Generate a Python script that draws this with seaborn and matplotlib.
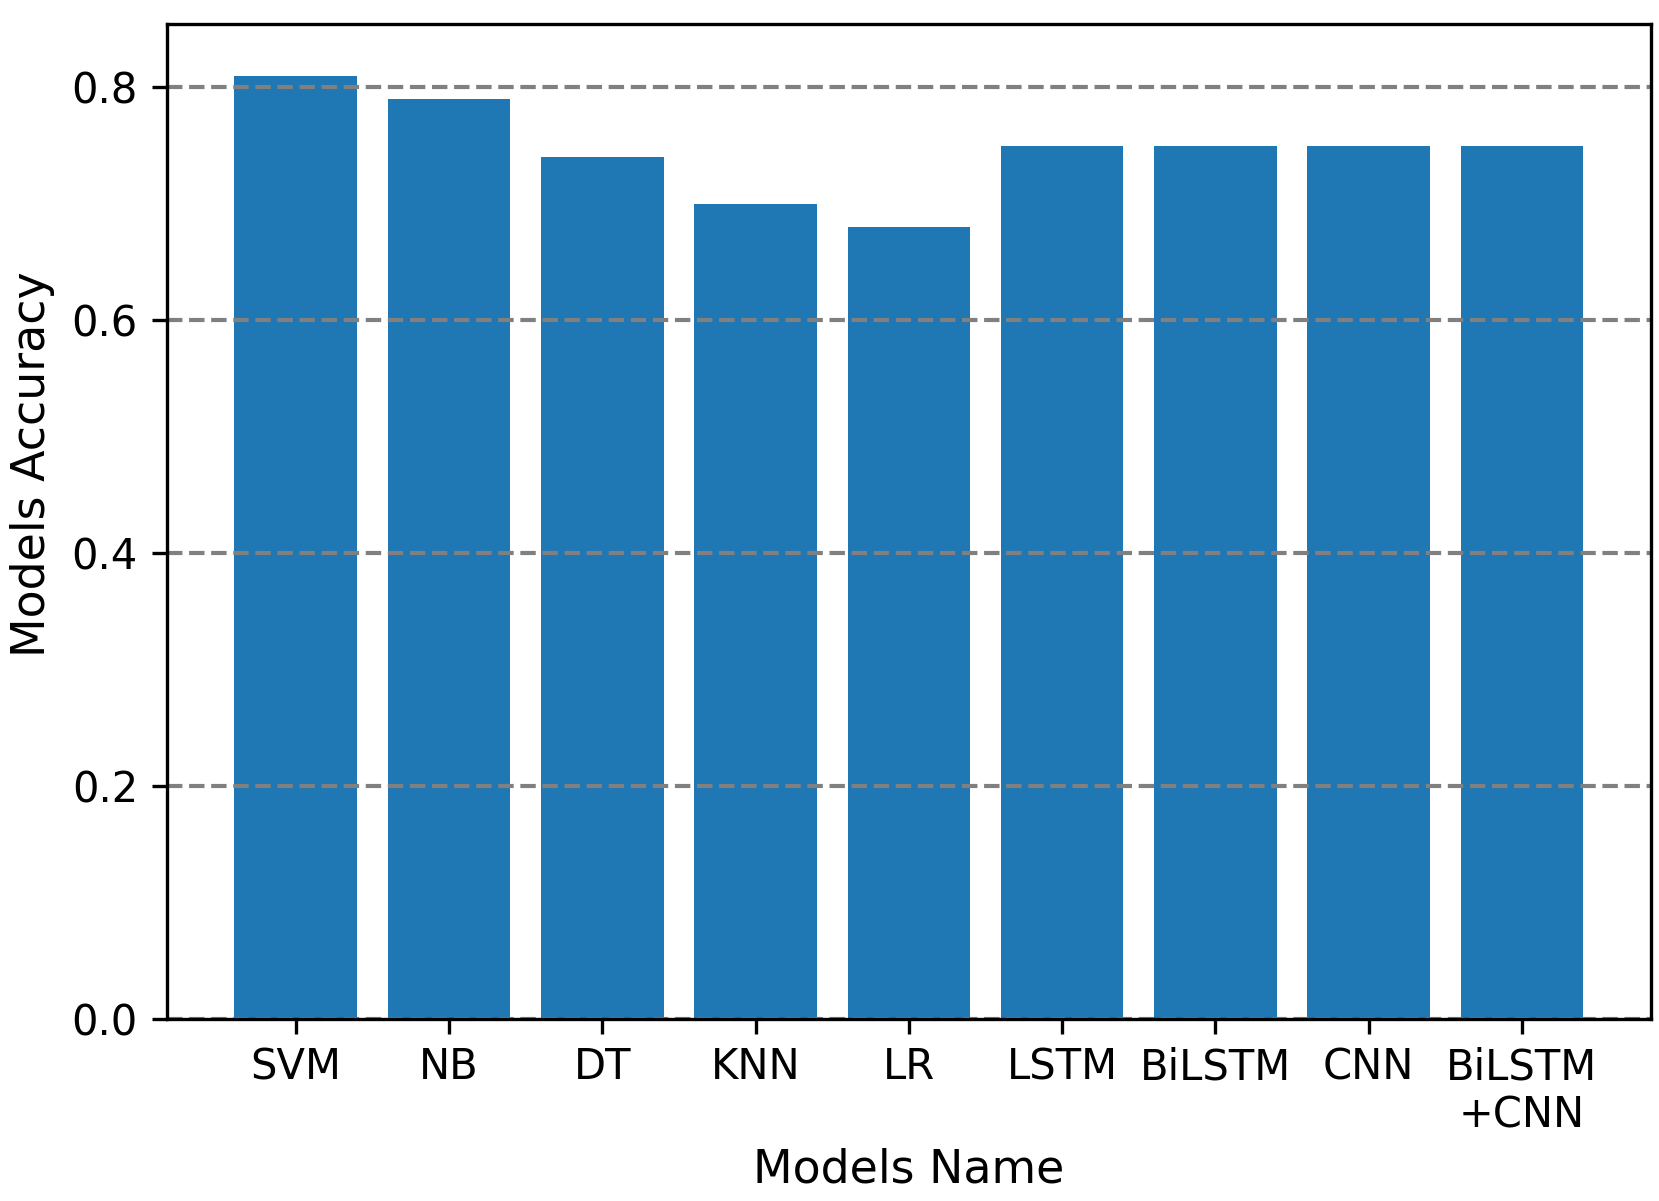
import matplotlib
matplotlib.use("Agg")
import matplotlib.pyplot as plt
import seaborn as sns
import pandas as pd

models = ["SVM", "NB", "DT", "KNN", "LR", "LSTM", "BiLSTM", "CNN", "BiLSTM\n+CNN"]
accuracy = [0.81, 0.79, 0.74, 0.70, 0.68, 0.75, 0.75, 0.75, 0.75]

df = pd.DataFrame({"model": models, "acc": accuracy})

fig = plt.figure(figsize=(1659 / 300, 1201 / 300), dpi=300)
ax = fig.add_axes([0.1007, 0.1515, 0.995 - 0.1007, 0.980 - 0.1515])

sns.barplot(data=df, x="model", y="acc", color="#1f77b4", saturation=1,
            width=0.8, ax=ax, errorbar=None)

ax.yaxis.grid(True, linestyle="--", color="gray", linewidth=1.0)
ax.set_yticks([0.0, 0.2, 0.4, 0.6, 0.8])
ax.set_ylim(0, 0.8545)
ax.tick_params(axis="x", pad=3.0)
ax.set_xlabel("Models Name", fontsize=11, labelpad=2.7)
ax.set_ylabel("Models Accuracy", fontsize=11)
ax.yaxis.set_label_coords(-0.0755, 0.558)
ax.margins(x=0.05)

fig.savefig("out.png", dpi=300)
